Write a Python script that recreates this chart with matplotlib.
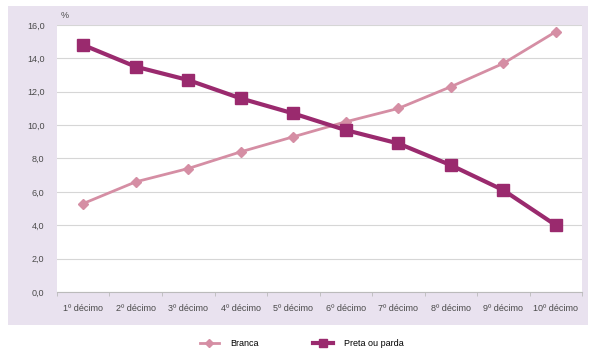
import matplotlib.pyplot as plt
from matplotlib.patches import Rectangle
from matplotlib.ticker import FuncFormatter, MultipleLocator

plt.rcParams['font.family'] = ['Liberation Sans', 'DejaVu Sans']

# Distribution by income decile, %
decimos = ['1º décimo', '2º décimo', '3º décimo', '4º décimo', '5º décimo',
           '6º décimo', '7º décimo', '8º décimo', '9º décimo', '10º décimo']
branca = [5.3, 6.6, 7.4, 8.4, 9.3, 10.2, 11.0, 12.3, 13.7, 15.6]
preta_parda = [14.8, 13.5, 12.7, 11.6, 10.7, 9.7, 8.9, 7.6, 6.1, 4.0]

cor_branca = '#d58ea4'
cor_preta = '#9a2a6e'

fig = plt.figure(figsize=(5.91, 3.52), dpi=100, facecolor='white')

# lavender chart panel behind the plot area
fig.patches.append(Rectangle((0.0135, 0.077), 0.982, 0.906, transform=fig.transFigure,
                             facecolor='#e9e2ef', edgecolor='none', zorder=-10))

ax = fig.add_axes([0.0964, 0.1705, 0.8886, 0.7585])
ax.set_facecolor('white')

x = range(len(decimos))
ax.plot(x, branca, color=cor_branca, lw=2, marker='D', ms=5,
        label='Branca', zorder=3)
ax.plot(x, preta_parda, color=cor_preta, lw=3, marker='s', ms=8,
        label='Preta ou parda', zorder=4)

ax.set_xlim(-0.5, len(decimos) - 0.5)
ax.set_ylim(0, 16)
ax.yaxis.set_major_locator(MultipleLocator(2))
ax.yaxis.set_major_formatter(FuncFormatter(lambda v, p: f'{v:.1f}'.replace('.', ',')))
ax.grid(axis='y', color='#d6d6d6', lw=0.8)
ax.set_axisbelow(True)

ax.set_xticks(list(x))
ax.set_xticklabels(decimos)
ax.set_xticks([i + 0.5 for i in range(-1, len(decimos))], minor=True)
ax.tick_params(axis='x', which='major', length=0, labelsize=6.5, colors='#4a4a4a', pad=9)
ax.tick_params(axis='x', which='minor', length=3, color='#bbbbbb')
ax.tick_params(axis='y', length=0, labelsize=6.5, colors='#4a4a4a', pad=9)

for s in ['top', 'right', 'left']:
    ax.spines[s].set_visible(False)
ax.spines['bottom'].set_color('#bbbbbb')

fig.text(0.102, 0.955, '%', fontsize=6.5, color='#4a4a4a', ha='left', va='center')

fig.legend(loc='center', bbox_to_anchor=(0.51, 0.025), ncol=2, frameon=False,
           fontsize=6.5, handlelength=2.2, handletextpad=1.2, columnspacing=6,
           markerscale=0.8)

fig.savefig('out.png', dpi=100, facecolor='white')
